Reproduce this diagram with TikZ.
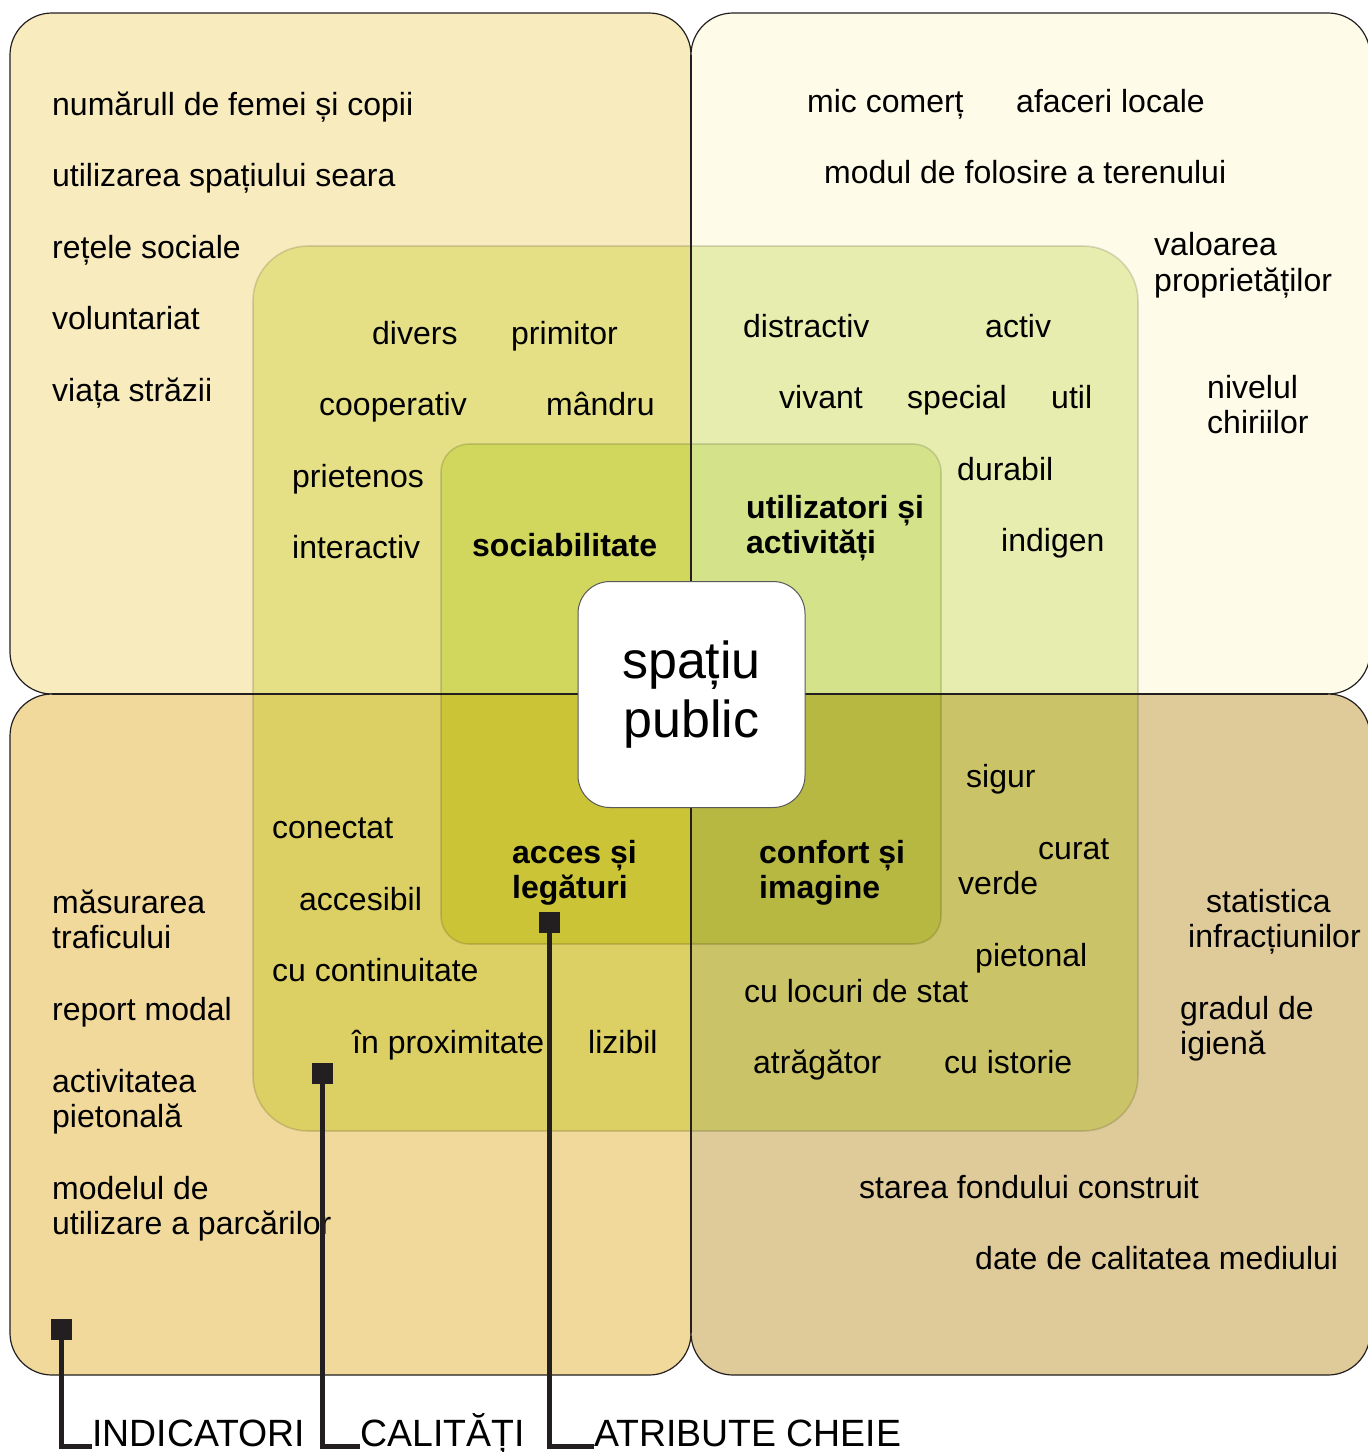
\documentclass[tikz,border=0pt]{standalone}
\usepackage{fontspec}
\setmainfont{Liberation Sans}
\newfontfamily\narrowfont[FakeStretch=0.985]{Liberation Sans}
\definecolor{oTL}{HTML}{F8EBBE}
\definecolor{oTR}{HTML}{FEFBE9}
\definecolor{oBL}{HTML}{F1D99B}
\definecolor{oBR}{HTML}{DFCA9A}
\definecolor{mTL}{HTML}{E5E086}
\definecolor{mTR}{HTML}{E7EDAE}
\definecolor{mBL}{HTML}{DCCF63}
\definecolor{mBR}{HTML}{CBC368}
\definecolor{iTL}{HTML}{D1D65D}
\definecolor{iTR}{HTML}{D4E389}
\definecolor{iBL}{HTML}{CBC437}
\definecolor{iBR}{HTML}{B7B842}
\definecolor{ink}{HTML}{231F20}
\begin{document}
\begin{tikzpicture}[x=1pt,y=-1pt,
  outerbox/.style={draw=ink, line width=1.2pt, rounded corners=42pt},
  faint/.style={draw=black, draw opacity=0.13, line width=1.6pt},
  t/.style={anchor=base west, inner sep=0pt, font=\fontsize{32}{36}\selectfont},
  tb/.style={t, font=\fontsize{32}{36}\selectfont\bfseries},
  marker/.style={fill=ink, minimum size=21pt, inner sep=0pt},
  biglbl/.style={anchor=base west, inner sep=0pt, font=\narrowfont\fontsize{38}{40}\selectfont},
  conn/.style={draw=ink, line width=5pt, line join=miter}]
\useasboundingbox (0,0) rectangle (1368,1452);
\begin{scope}
\clip (0,0) rectangle (1368,1452);
\fill[white] (0,0) rectangle (1368,1452);
% outer quadrants
\draw[outerbox, fill=oTL] (10,13) rectangle (691,694);
\draw[outerbox, fill=oTR] (691,13) rectangle (1370,694);
\draw[outerbox, fill=oBL] (10,694) rectangle (691,1375);
\draw[outerbox, fill=oBR] (691,694) rectangle (1370,1375);
% middle and inner squares, coloured by quadrant
\begin{scope}
\clip (0,0) rectangle (691,694);
\fill[mTL, rounded corners=55pt] (253,246) rectangle (1138,1131);
\fill[iTL, rounded corners=28pt] (441,444) rectangle (941,944);
\end{scope}
\begin{scope}
\clip (691,0) rectangle (1368,694);
\fill[mTR, rounded corners=55pt] (253,246) rectangle (1138,1131);
\fill[iTR, rounded corners=28pt] (441,444) rectangle (941,944);
\end{scope}
\begin{scope}
\clip (0,694) rectangle (691,1452);
\fill[mBL, rounded corners=55pt] (253,246) rectangle (1138,1131);
\fill[iBL, rounded corners=28pt] (441,444) rectangle (941,944);
\end{scope}
\begin{scope}
\clip (691,694) rectangle (1368,1452);
\fill[mBR, rounded corners=55pt] (253,246) rectangle (1138,1131);
\fill[iBR, rounded corners=28pt] (441,444) rectangle (941,944);
\end{scope}
\draw[faint, rounded corners=55pt] (253,246) rectangle (1138,1131);
\draw[faint, rounded corners=28pt] (441,444) rectangle (941,944);
% quadrant dividing lines
\draw[draw=ink, line width=1.2pt] (691,55) -- (691,1333);
\draw[draw=ink, line width=1.2pt] (52,694) -- (1328,694);
\end{scope}
% centre box
\node[draw=black!65, fill=white, line width=1pt, rounded corners=32pt,
  minimum width=227pt, minimum height=226pt, inner sep=0pt,
  align=center, font=\fontsize{52}{59}\selectfont] (sp) at (691.5,694.5) {spațiu\\public};
% top-left: indicators
\node[t] (a1) at (52,115) {numărull de femei și copii};
\node[t] (a2) at (52,186) {utilizarea spațiului seara};
\node[t] (a3) at (52,258) {rețele sociale};
\node[t] (a4) at (52,329) {voluntariat};
\node[t] (a5) at (52,401) {viața străzii};
% top-left: qualities
\node[t] (b1) at (372,344) {divers};
\node[t] (b2) at (511,344) {primitor};
\node[t] (b3) at (319,415) {cooperativ};
\node[t] (b4) at (546,415) {mândru};
\node[t] (b5) at (292,487) {prietenos};
\node[t] (b6) at (292,558) {interactiv};
\node[tb] (k1) at (472,556) {sociabilitate};
% top-right: indicators
\node[t] (c1) at (807,112) {mic comerț};
\node[t] (c2) at (1016,112) {afaceri locale};
\node[t] (c3) at (824,183) {modul de folosire a terenului};
\node[t] (c4) at (1154,255) {valoarea};
\node[t] (c4b) at (1154,291) {proprietăților};
\node[t] (c5) at (1207,398) {nivelul};
\node[t] (c5b) at (1207,433) {chiriilor};
% top-right: qualities
\node[t] (d1) at (743,337) {distractiv};
\node[t] (d2) at (985,337) {activ};
\node[t] (d3) at (779,408) {vivant};
\node[t] (d4) at (907,408) {special};
\node[t] (d5) at (1051,408) {util};
\node[t] (d6) at (957,480) {durabil};
\node[t] (d7) at (1001,551) {indigen};
\node[tb] (k2) at (746,518) {utilizatori și};
\node[tb] (k2b) at (746,553) {activități};
% bottom-left: qualities
\node[t] (e1) at (272,838) {conectat};
\node[t] (e2) at (299,910) {accesibil};
\node[t] (e3) at (272,981) {cu continuitate};
\node[t] (e4) at (352,1053) {în proximitate};
\node[t] (e5) at (588,1053) {lizibil};
\node[tb] (k3) at (512,863) {acces și};
\node[tb] (k3b) at (512,898) {legături};
% bottom-left: indicators
\node[t] (f1) at (52,913) {măsurarea};
\node[t] (f1b) at (52,948) {traficului};
\node[t] (f2) at (52,1020) {report modal};
\node[t] (f3) at (52,1092) {activitatea};
\node[t] (f3b) at (52,1127) {pietonală};
\node[t] (f4) at (52,1199) {modelul de};
\node[t] (f4b) at (52,1234) {utilizare a parcărilor};
% bottom-right: qualities
\node[t] (g1) at (966,787) {sigur};
\node[t] (g2) at (1038,859) {curat};
\node[t] (g3) at (958,894) {verde};
\node[t] (g4) at (975,966) {pietonal};
\node[t] (g5) at (744,1002) {cu locuri de stat};
\node[t] (g6) at (753,1073) {atrăgător};
\node[t] (g7) at (944,1073) {cu istorie};
\node[tb] (k4) at (759,863) {confort și};
\node[tb] (k4b) at (759,898) {imagine};
% bottom-right: indicators
\node[t] (h1) at (1206,912) {statistica};
\node[t] (h1b) at (1188,947) {infracțiunilor};
\node[t] (h2) at (1180,1019) {gradul de};
\node[t] (h2b) at (1180,1054) {igienă};
\node[t] (h3) at (859,1198) {starea fondului construit};
\node[t] (h4) at (975,1269) {date de calitatea mediului};
% legend
\node[biglbl] (l1) at (92,1446) {INDICATORI};
\node[biglbl] (l2) at (360,1446) {CALITĂȚI};
\node[biglbl] (l3) at (594,1446) {ATRIBUTE CHEIE};
\coordinate (m1c) at (61,1329.5);
\coordinate (m2c) at (322.5,1073.5);
\coordinate (m3c) at (549,922.5);
\draw[conn] (m1c) |- (l1.base west);
\draw[conn] (m2c) |- (l2.base west);
\draw[conn] (m3c) |- (l3.base west);
\node[marker] (m1) at (m1c) {};
\node[marker] (m2) at (m2c) {};
\node[marker] (m3) at (m3c) {};
\end{tikzpicture}
\end{document}
